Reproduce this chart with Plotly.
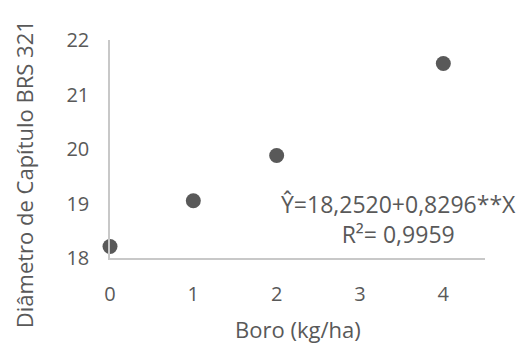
import plotly.graph_objects as go

boro = [0, 1, 2, 4]
diametro = [18.21, 19.05, 19.88, 21.57]
x_ticks = [0, 1, 2, 3, 4]
y_ticks = [18, 19, 20, 21, 22]
eq_text = "Ŷ=18,2520+0,8296**X<br>R²= 0,9959"
x_title = "Boro (kg/ha)"
y_title = "Diâmetro de Capítulo BRS 321"

txt = "#595959"
line_c = "#c8c8c8"
ff = "Open Sans"
fs_tick = 20
fs_title = 22
fs_eq = 23

fig = go.Figure()
fig.add_trace(go.Scatter(
    x=boro, y=diametro, mode="markers",
    marker=dict(size=15, color="#595959"),
    cliponaxis=False, showlegend=False,
))

fig.add_annotation(
    xref="paper", yref="paper", x=0.768, y=0.179, xanchor="center", yanchor="middle",
    text=eq_text, showarrow=False, align="center",
    font=dict(family=ff, size=fs_eq, color=txt),
)
fig.add_annotation(
    xref="paper", yref="paper", x=0.501, y=-0.325, xanchor="center", yanchor="middle",
    text=x_title, showarrow=False, font=dict(family=ff, size=fs_title, color=txt),
)
fig.add_annotation(
    xref="paper", yref="paper", x=-0.229, y=0.385, xanchor="center", yanchor="middle",
    text=y_title, showarrow=False, textangle=-90, font=dict(family=ff, size=fs_title, color=txt),
)

fig.update_layout(
    width=516, height=336,
    margin=dict(l=102, r=39, t=32, b=86, autoexpand=False),
    paper_bgcolor="white", plot_bgcolor="white",
    font=dict(family=ff, color=txt, size=fs_tick),
    xaxis=dict(
        range=[0, 4.5], tickvals=x_ticks, ticktext=[str(v) for v in x_ticks],
        showgrid=False, zeroline=False, showline=True, linecolor=line_c, linewidth=1.5,
        ticks="", tickfont=dict(size=fs_tick, color=txt), ticklabelstandoff=17, automargin=False,
    ),
    yaxis=dict(
        range=[18, 22], tickvals=y_ticks, ticktext=[str(v) for v in y_ticks],
        showgrid=False, zeroline=False, showline=True, linecolor=line_c, linewidth=1.5,
        ticks="", tickfont=dict(size=fs_tick, color=txt), ticklabelstandoff=15, automargin=False,
    ),
)

fig.write_html("out.html")
